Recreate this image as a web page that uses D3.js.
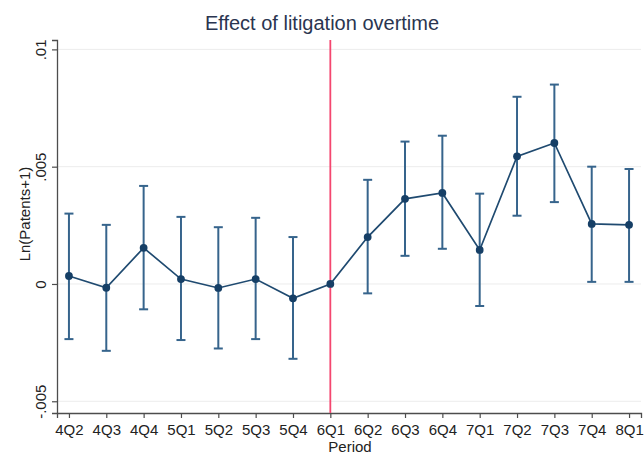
<!DOCTYPE html>
<html>
<head>
<meta charset="utf-8">
<script src="https://cdn.jsdelivr.net/npm/d3@7"></script>
<style>
  html, body { margin: 0; padding: 0; background: #fff; }
  svg { display: block; font-family: "Liberation Sans", Arial, sans-serif; }
</style>
</head>
<body>
<svg id="chart" width="644" height="455"></svg>
<script>
// Quarterly event-study estimates with 95% confidence bounds
const periods = ["4Q2","4Q3","4Q4","5Q1","5Q2","5Q3","5Q4","6Q1",
                 "6Q2","6Q3","6Q4","7Q1","7Q2","7Q3","7Q4","8Q1"];
const coef  = [0.00034,-0.00016,0.00154,0.00021,-0.00017,0.00021,-0.00061,0.0,
               0.00200,0.00363,0.00388,0.00145,0.00544,0.00601,0.00256,0.00252];
const upper = [0.00300,0.00252,0.00418,0.00286,0.00242,0.00282,0.00200,null,
               0.00444,0.00607,0.00632,0.00385,0.00798,0.00850,0.00500,0.00490];
const lower = [-0.00235,-0.00285,-0.00108,-0.00239,-0.00275,-0.00235,-0.00319,null,
               -0.00040,0.00120,0.00150,-0.00094,0.00291,0.00349,0.00009,0.00009];
const yTicks = [-0.005, 0, 0.005, 0.01];
const yTickLabels = ["-.005", "0", ".005", ".01"];
const eventPeriod = "6Q1";

const rows = periods.map((p, i) => ({ p, v: coef[i], hi: upper[i], lo: lower[i] }));

const svg = d3.select("#chart");
const plotLeft = 57, plotRight = 641, plotTop = 40, plotBottom = 413;

const x = d3.scalePoint().domain(periods).range([plotLeft, plotRight]).padding(0.32);
const y = d3.scaleLinear().domain([-0.0055, 0.0104]).range([plotBottom, plotTop]);

// horizontal gridlines
svg.append("g").selectAll("line").data(yTicks).join("line")
  .attr("x1", plotLeft).attr("x2", plotRight)
  .attr("y1", d => y(d)).attr("y2", d => y(d))
  .attr("stroke", "#ececec").attr("stroke-width", 1);

// y axis
const yAxis = svg.append("g")
  .attr("transform", `translate(${plotLeft},0)`)
  .call(d3.axisLeft(y).tickValues(yTicks).tickSizeOuter(0).tickSize(5)
        .tickFormat((d, i) => yTickLabels[i]));
yAxis.select(".domain").attr("stroke", "#4d4d4d").attr("stroke-width", 1.3);
yAxis.selectAll(".tick line").attr("stroke", "#4d4d4d").attr("stroke-width", 1.2);
yAxis.selectAll(".tick text")
  .attr("x", null).attr("dy", null)
  .attr("transform", "translate(-11,0) rotate(-90)")
  .attr("text-anchor", "middle")
  .attr("font-size", 15).attr("fill", "#222");

// x axis
const xAxis = svg.append("g")
  .attr("transform", `translate(0,${plotBottom})`)
  .call(d3.axisBottom(x).tickSizeOuter(0).tickSize(5));
xAxis.select(".domain").attr("stroke", "#4d4d4d").attr("stroke-width", 1.3);
xAxis.selectAll(".tick line").attr("stroke", "#4d4d4d").attr("stroke-width", 1.2);
xAxis.selectAll(".tick text")
  .attr("y", 22).attr("dy", null)
  .attr("font-size", 15).attr("fill", "#222");

// event marker at 6Q1
svg.append("line")
  .attr("x1", x(eventPeriod)).attr("x2", x(eventPeriod))
  .attr("y1", plotTop).attr("y2", plotBottom)
  .attr("stroke", "#f4466f").attr("stroke-width", 1.8);

// confidence intervals with caps
const ci = rows.filter(d => d.hi !== null);
const capW = 4.5;
const gci = svg.append("g").attr("stroke", "#36648c").attr("stroke-width", 2);
gci.selectAll(".ci").data(ci).join("line")
  .attr("x1", d => x(d.p)).attr("x2", d => x(d.p))
  .attr("y1", d => y(d.hi)).attr("y2", d => y(d.lo));
gci.selectAll(".capHi").data(ci).join("line")
  .attr("x1", d => x(d.p) - capW).attr("x2", d => x(d.p) + capW)
  .attr("y1", d => y(d.hi)).attr("y2", d => y(d.hi));
gci.selectAll(".capLo").data(ci).join("line")
  .attr("x1", d => x(d.p) - capW).attr("x2", d => x(d.p) + capW)
  .attr("y1", d => y(d.lo)).attr("y2", d => y(d.lo));

// connected point estimates
svg.append("path").datum(rows)
  .attr("fill", "none").attr("stroke", "#1f4a70").attr("stroke-width", 1.7)
  .attr("d", d3.line().x(d => x(d.p)).y(d => y(d.v)));
svg.append("g").selectAll("circle").data(rows).join("circle")
  .attr("cx", d => x(d.p)).attr("cy", d => y(d.v)).attr("r", 3.9)
  .attr("fill", "#163f66");

// titles
svg.append("text")
  .attr("x", 322).attr("y", 30).attr("text-anchor", "middle")
  .attr("font-size", 20).attr("fill", "#2a3550")
  .text("Effect of litigation overtime");
svg.append("text")
  .attr("transform", "translate(30,214) rotate(-90)")
  .attr("text-anchor", "middle").attr("font-size", 15).attr("fill", "#222")
  .text("Ln(Patents+1)");
svg.append("text")
  .attr("x", 350).attr("y", 452).attr("text-anchor", "middle")
  .attr("font-size", 15).attr("fill", "#222")
  .text("Period");
</script>
</body>
</html>
